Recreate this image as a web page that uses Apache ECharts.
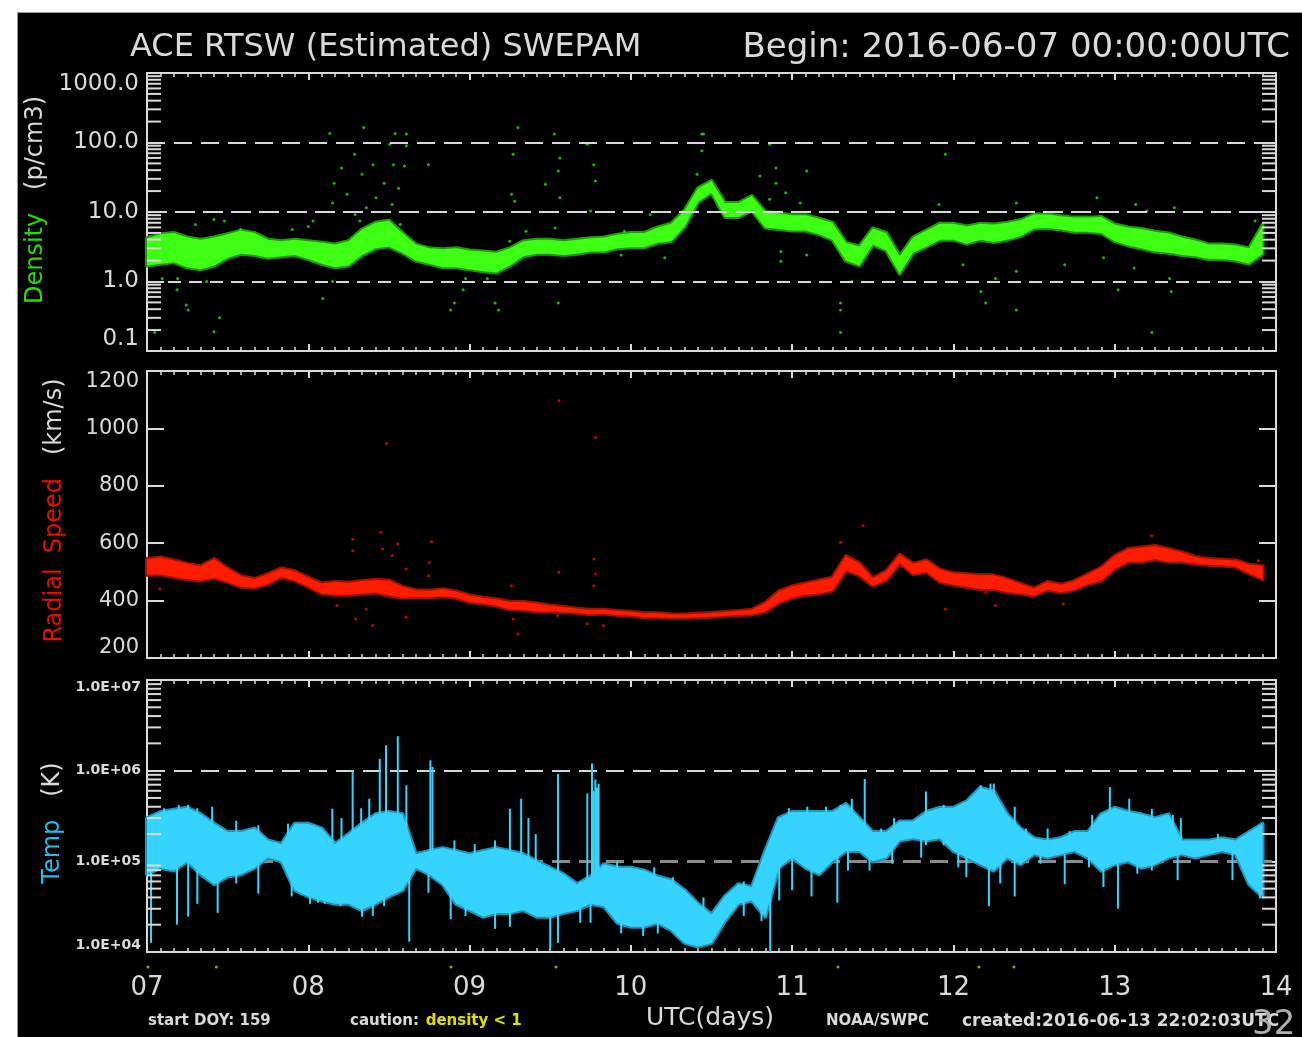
<!DOCTYPE html>
<html><head><meta charset="utf-8">
<script src="https://cdn.jsdelivr.net/npm/echarts@6/dist/echarts.min.js"></script>
<style>
html,body{margin:0;padding:0;background:#fff;width:1302px;height:1037px;overflow:hidden;}
#bg{position:absolute;left:17px;top:12px;width:1285px;height:1025px;background:#000;border-left:1px solid #999;border-top:1px solid #999;box-sizing:border-box;}
#c{position:absolute;left:0;top:0;width:1302px;height:1037px;}
</style>
</head><body><div id="bg"></div><div id="c"></div>
<script>
// ---------- labels ----------
const dayLabels = ['07','08','09','10','11','12','13','14'];
const densityTickLabels = ['0.1','1.0','10.0','100.0','1000.0'];
const speedTickLabels = ['200','400','600','800','1000','1200'];
const tempTickLabels = ['1.0E+04','1.0E+05','1.0E+06','1.0E+07'];
const densityDecades = [0.1, 1, 10, 100];
const tempDecades = [1e4, 1e5, 1e6];
const logMinorMultipliers = [2,3,4,5,6,7,8,9];
const densityRefLines = [1, 10, 100];
const tempRefLines = [1e5, 1e6];
const stepHours = 2; // samples every 2 hours from 2016-06-07 00:00 UTC

// ---------- density (p/cm3): band low / high every 2 h ----------
const densLo = [1.7,1.8,1.9,1.6,1.5,1.7,2.2,2.5,2.4,2.2, 2.3,2.4,2.1,1.8,1.6,1.7,2.4,3.0,3.2,2.6,
  2.0,1.8,1.6,1.6,1.5,1.4,1.35,1.7,2.3,2.5, 2.5,2.4,2.5,2.7,2.7,3.0,3.1,3.1,3.6,3.8,
  6.2,14,19,8.5,8.5,10.5,6.0,5.7,5.4,5.4, 4.8,4.0,2.0,1.7,3.4,2.8,1.3,2.6,3.2,4.0,
  4.0,3.5,4.0,3.7,4.0,4.5,5.8,5.9,5.6,5.2, 5.2,5.0,3.8,3.3,3.0,2.7,2.6,2.4,2.3,2.1,
  2.1,2.0,1.8,2.5];
const densHi = [4.2,4.8,5.0,4.3,4.0,4.3,4.8,5.4,5.0,4.0, 3.8,4.0,3.8,3.6,3.4,3.8,5.6,7.0,7.5,5.0,
  3.4,3.0,2.9,3.0,2.8,2.7,2.6,3.0,3.8,4.0, 4.0,3.8,4.0,4.2,4.3,4.7,5.0,5.0,6.0,6.8,
  10.5,22,28,13.5,13.5,17,10.0,9.5,9.0,9.0, 8.0,7.0,3.6,3.2,5.8,5.0,2.3,4.3,5.4,6.8,
  6.8,6.2,6.8,6.6,7.0,7.6,9.2,9.2,8.7,8.3, 8.3,8.5,6.6,6.0,5.7,5.2,4.9,4.3,3.9,3.4,
  3.4,3.3,3.0,6.5];
// scattered density points [day, value]
const densDots = [[1.344,165],[1.133,135],[1.539,135],[1.608,132],[1.505,94],[1.608,90],[1.287,68],[1.401,48],
  [1.528,48],[1.596,46],[1.206,43],[1.333,35],[1.47,26],[1.16,26],[1.56,22],[1.24,18],[1.42,16],[1.15,13.5],
  [1.36,11.5],[1.29,9.2],[1.52,12.8],[1.32,7.4],[1.57,6.6],[1.745,48],[2.27,68],[2.26,18],[2.28,14.3],[2.30,165],
  [2.525,132],[2.56,60],[2.55,39],[2.47,25],[2.56,16],[2.73,94],[2.77,48],[2.78,28],[2.75,10.3],[2.53,5.9],
  [3.44,132],[3.44,76],[3.41,35],[0.186,0.76],[0.243,0.46],[0.255,0.39],[0.45,0.30],[0.415,0.19],[0.048,0.185],
  [1.09,0.57],[1.906,0.49],[1.883,0.39],[2.158,0.49],[2.18,0.39],[2.55,0.49],[1.96,0.76],
  [0.9,5.6],[1.0,6.2],[1.03,7.4],[0.3,6.6],[0.415,7.8],[0.48,7.4],[0.58,5.6],[0.19,1.1],[0.094,1.1],[0.37,1.0],
  [1.15,1.0],[1.975,1.1],[2.11,1.1],[2.96,5.3],[3.12,9.2],[3.21,2.2],[2.94,2.4],[2.25,3.8],[2.35,5.3],
  [3.45,132],[3.86,94],[4.95,68],[3.90,43],[4.09,39],[3.90,26],[3.80,33],[3.96,19],[3.86,15.2],[4.05,13.5],
  [3.93,2.7],[3.93,1.95],[4.09,2.4],[4.30,0.49],[4.30,0.39],[4.30,0.185],[5.17,0.72],[5.20,0.49],[5.26,1.1],
  [5.39,0.39],[5.39,1.4],[6.02,0.76],[6.35,0.72],[6.23,0.185],[5.89,16],[6.13,12.8],[6.37,11.5],[5.39,13.5],
  [4.91,12.8],[5.69,1.74],[6.12,1.56],[6.34,1.1],[5.06,1.74],[6.87,7.4],[4.37,1.0],[5.93,2.2],[6.2,10.3]];

// ---------- radial speed (km/s): band low / high every 2 h ----------
const speedLo = [490,492,482,475,470,480,465,448,445,458, 482,470,448,425,420,420,425,428,418,410,
  412,412,415,410,395,390,382,370,368,362, 362,360,358,352,355,350,348,342,342,340,
  340,342,344,347,350,352,362,392,410,420, 425,435,505,488,452,472,530,492,500,465,
  455,448,440,440,430,425,418,438,430,438, 458,470,510,535,535,545,535,535,528,525,
  522,518,495,475];
const speedHi = [545,550,540,528,520,545,512,485,475,492, 512,502,480,460,465,462,468,472,470,448,
  436,434,440,432,418,410,405,395,395,390, 383,378,372,368,368,364,361,356,356,352,
  352,354,357,360,364,368,392,432,450,460, 470,480,555,530,478,502,560,528,540,508,
  495,492,488,488,475,458,442,465,455,468, 492,515,555,580,585,590,580,568,552,545,
  542,540,525,520];
const speedDots = [[1.484,947],[2.78,968],[2.554,1096],[1.276,614],[1.276,574],[1.45,638],[1.46,580],[1.555,597],
  [1.52,557],[1.764,605],[1.75,533],[1.745,487],[1.607,510],[2.77,545],[2.78,493],[2.77,452],[2.554,499],
  [2.26,452],[1.294,336],[1.40,313],[1.607,342],[2.30,284],[2.73,319],[2.83,313],[1.177,383],[1.36,371],
  [2.27,336],[0.08,441],[2.546,348],[4.44,661],[4.30,603],[4.95,371],[5.68,388],[5.26,383],[5.20,429],
  [6.23,626],[6.89,539]];

// ---------- temperature (K): band low / high every 2 h ----------
const tempHi = [3.0e5,3.5e5,3.7e5,3.9e5,3.3e5,2.6e5,2.1e5,2.1e5,2.3e5,1.7e5, 1.55e5,2.6e5,2.6e5,2.3e5,1.55e5,2.0e5,2.6e5,3.3e5,3.5e5,3.3e5,
  1.2e5,1.3e5,1.4e5,1.3e5,1.2e5,1.3e5,1.4e5,1.3e5,1.2e5,1.0e5, 8.5e4,7.2e4,5.6e4,6.8e4,9.3e4,8.5e4,8.5e4,7.9e4,6.8e4,6.2e4,
  4.8e4,3.4e4,2.6e4,4.1e4,5.6e4,5.2e4,1.3e5,3.0e5,3.5e5,3.5e5, 3.5e5,3.5e5,4.3e5,3.0e5,2.1e5,2.1e5,2.75e5,2.75e5,3.5e5,3.9e5,
  3.9e5,4.6e5,6.5e5,5.9e5,3.3e5,2.3e5,1.8e5,1.7e5,1.8e5,2.1e5, 2.1e5,3.3e5,3.9e5,3.5e5,3.3e5,3.0e5,3.3e5,1.7e5,1.7e5,1.7e5,
  1.8e5,1.7e5,2.1e5,2.6e5];
const tempLo = [7.2e4,8.5e4,7.9e4,1.0e5,7.2e4,5.6e4,6.8e4,7.2e4,8.5e4,1.1e5, 1.0e5,4.8e4,4.1e4,3.7e4,3.4e4,3.4e4,2.9e4,3.4e4,4.1e4,4.8e4,
  8.5e4,7.2e4,5.6e4,3.4e4,2.9e4,2.45e4,2.7e4,2.7e4,2.9e4,2.45e4, 2.45e4,2.7e4,2.9e4,3.4e4,3.2e4,2.1e4,1.9e4,1.9e4,2.1e4,1.75e4,
  1.26e4,1.15e4,1.26e4,2.2e4,3.4e4,3.7e4,2.45e4,8.5e4,1.1e5,8.5e4, 7.2e4,1.0e5,1.3e5,1.3e5,1.0e5,1.1e5,1.7e5,1.8e5,1.7e5,1.8e5,
  1.3e5,1.1e5,9.3e4,7.9e4,1.1e5,9.3e4,1.2e5,1.1e5,1.2e5,1.3e5, 1.1e5,7.9e4,9.3e4,1.0e5,8.5e4,9.3e4,1.1e5,1.2e5,1.1e5,1.2e5,
  1.3e5,1.2e5,5.6e4,4.1e4];
// spikes [day, low K, high K]
const tempSpikes = [[1.555,1.3e5,2.4e6],[1.482,1.5e5,1.9e6],[1.443,1.5e5,1.35e6],[1.608,1.5e5,6.9e5],[1.757,9.0e4,1.3e6],
  [1.77,9.0e4,1.1e6],[1.275,1.2e5,1.0e6],[1.378,1.2e5,4.9e5],[1.149,1.2e5,3.8e5],[2.548,6.0e4,9.2e5],[2.759,6.0e4,1.2e6],
  [2.78,6.0e4,8.0e5],[2.80,6.0e4,7.2e5],[2.77,6.0e4,6.0e5],[2.79,6.0e4,6.5e5],[2.32,8.0e4,4.9e5],[2.25,8.0e4,3.8e5],
  [0.404,1.5e5,4.0e5],[0.255,1.5e5,4.2e5],
  [1.906,1.0e5,1.7e5],[4.45,1.5e5,8.1e5],[4.37,1.5e5,4.9e5],[5.97,1.5e5,6.6e5],[6.09,1.5e5,4.9e5],[6.23,1.5e5,3.8e5],
  [5.38,1.5e5,4.0e5],[4.83,1.5e5,5.9e5],[5.23,1.5e5,7.2e5],[5.17,1.5e5,6.9e5],[6.90,1.0e5,2.5e5],
  [0.025,1.26e4,2.0e5],[0.186,2.0e4,2.0e5],[0.255,2.45e4,2.0e5],[0.438,2.7e4,1.5e5],[1.626,1.3e4,1.5e5],[2.50,1.1e4,8.0e4],
  [2.548,1.26e4,8.0e4],[2.94,1.6e4,6.0e4],[2.75,2.1e4,6.0e4],[1.333,2.45e4,1.0e5],[1.745,4.5e4,1.2e5],[3.864,1.0e4,1.5e5],
  [3.92,3.7e4,1.5e5],[5.22,3.2e4,1.2e5],[5.38,4.1e4,1.2e5],[6.02,3.0e4,1.2e5],[5.69,5.6e4,1.2e5],[5.93,5.2e4,1.2e5],
  [6.73,6.2e4,1.5e5],[6.90,3.9e4,1.2e5],[4.28,3.5e4,1.5e5],[4.12,4.1e4,1.5e5],[4.0,4.8e4,1.5e5],[3.70,2.5e4,6.0e4],
  [3.81,2.2e4,8.0e4],[1.06,3.5e4,1.0e5],[1.2,3.2e4,1.0e5],
  [0.106,1.5e5,3.85e5],[0.197,1.5e5,4.2e5],[0.312,1.5e5,3.85e5],[0.553,1.3e5,2.8e5],[0.69,1.3e5,2.5e5],[0.874,1.2e5,2.6e5],
  [1.034,1.2e5,2.5e5],[1.206,1.2e5,3.0e5],[1.328,1.2e5,3.85e5],[2.032,9.0e4,1.55e5],[2.158,9.0e4,1.7e5],[2.365,8.0e4,3.0e5],
  [2.41,8.0e4,2.0e5],[2.73,5.0e4,5.6e5],[2.915,4.0e4,1.0e5],[3.145,4.0e4,8.6e4],[3.26,3.0e4,6.7e4],
  [0.312,3.4e4,1.5e5],[0.553,5.7e4,1.5e5],[0.69,4.4e4,1.5e5],[0.897,4.1e4,1.2e5],[1.011,3.4e4,1.2e5],[1.103,3.4e4,1.2e5],
  [1.40,2.5e4,1.2e5],[1.47,3.2e4,1.2e5],[1.883,2.3e4,8.0e4],[1.975,2.5e4,8.0e4],[2.158,1.8e4,8.0e4],[2.25,1.9e4,8.0e4],
  [2.686,2.1e4,6.0e4],[3.076,1.5e4,5.0e4],[3.167,1.6e4,5.0e4],[3.443,1.2e4,3.0e4],
  [3.98,1.5e5,3.85e5],[4.094,1.5e5,4.0e5],[4.21,1.5e5,4.0e5],[4.30,1.5e5,4.2e5],[4.552,1.5e5,2.3e5],[4.632,1.5e5,3.0e5],
  [4.94,1.5e5,4.2e5],[5.034,1.5e5,4.2e5],[5.25,1.5e5,7.2e5],[5.45,1.5e5,2.3e5],[5.584,1.4e5,2.3e5],[5.72,1.4e5,2.15e5],
  [5.86,1.5e5,3.25e5],[6.36,1.5e5,3.25e5],[6.41,1.4e5,3.0e5],[6.64,1.4e5,2.0e5],[6.87,1.4e5,2.15e5],
  [3.45,1.8e4,4.0e4],[4.346,7.9e4,2.0e5],[4.48,7.9e4,2.0e5],[4.62,9.4e4,2.0e5],[4.80,1.1e5,2.0e5],[5.03,8.6e4,2.0e5],
  [5.08,6.7e4,2.0e5],[5.29,5.7e4,2.0e5],[5.54,9.4e4,1.6e5],[5.84,8.6e4,2.0e5],[6.14,7.3e4,2.0e5],[6.23,7.9e4,2.0e5],
  [6.39,6.2e4,2.0e5]];

// caution marks (density < 1) along the time axis [day]
const cautionDays = [0.006, 0.43, 1.885, 2.536, 4.284, 5.158, 5.375];

// ---------- styling ----------
const FONT = 'DejaVu Sans';
const FG = '#dadada';
const GREEN = '#3dff12', RED = '#ff1c00', CYAN = '#35d4ff';
const timeOf = i => i * stepHours / 24;

const chart = echarts.init(document.getElementById('c'), null, {renderer:'canvas', width:1302, height:1037});

const grids = [
  {left:147, top:73, width:1129, height:278},
  {left:147, top:371, width:1129, height:287},
  {left:147, top:680, width:1129, height:272},
  {left:147, top:961, width:1129, height:12}
];

function xAx(gi, pos, withLabels) {
  return {
    gridIndex: gi, type:'value', position: pos, min:0, max:7, interval:1,
    axisLine:{show:true, onZero:false, lineStyle:{color:FG, width:2}},
    axisTick:{show:true, inside:true, length:7, lineStyle:{color:FG, width:2}},
    minorTick:{show:true, splitNumber:12, length:4, lineStyle:{color:FG, width:1.5}},
    splitLine:{show:false}, minorSplitLine:{show:false},
    axisLabel: withLabels ? {show:true, margin:23, color:FG, fontFamily:FONT, fontSize:26,
      formatter: v => dayLabels[Math.round(v)]} : {show:false}
  };
}
function yAx(gi, pos, base, label, name) {
  const a = Object.assign({
    gridIndex: gi, position: pos,
    axisLine:{show:true, onZero:false, lineStyle:{color:FG, width:2}},
    axisTick:{show:true, inside:true, length:17, lineStyle:{color:FG, width:2}},
    splitLine:{show:false},
    axisLabel: label ? Object.assign({show:true, color:FG, fontFamily:FONT,
      verticalAlignMinLabel:'bottom', verticalAlignMaxLabel:'top'}, label) : {show:false}
  }, base);
  if (name) Object.assign(a, name);
  return a;
}
function axisName(colored, plain, color, gap, pad) {
  return {
    name: '{c|' + colored + '}   {w|' + plain + '}', nameLocation:'middle', nameRotate:90, nameGap:gap,
    nameTextStyle:{fontFamily:FONT, fontSize:24, padding:pad, rich:{
      c:{color:color, fontFamily:FONT, fontSize:24}, w:{color:FG, fontFamily:FONT, fontSize:24}}}
  };
}

const densBase = {type:'log', logBase:10, min:0.1, max:1000, splitNumber:4};
const speedBase = {type:'value', min:200, max:1200, interval:200};
const tempBase = {type:'log', logBase:10, min:1e4, max:1e7, splitNumber:3};

function band(lo, hi, xi, yi, color, halo, z) {
  return {type:'custom', xAxisIndex:xi, yAxisIndex:yi, silent:true, z:z,
    data:[[timeOf(0), hi[0]]],
    renderItem: (params, api) => {
      const pts = [];
      for (let i = 0; i < hi.length; i++) pts.push(api.coord([timeOf(i), hi[i]]));
      for (let i = lo.length - 1; i >= 0; i--) pts.push(api.coord([timeOf(i), lo[i]]));
      return {type:'group', children:[
        {type:'polygon', shape:{points:pts}, style:{fill:halo, stroke:halo, lineWidth:4, lineJoin:'round'}},
        {type:'polygon', shape:{points:pts}, style:{fill:color}}
      ]};
    }};
}
function minorTicks(decades, xi, yi) {
  const vals = [];
  decades.forEach(d => logMinorMultipliers.forEach(m => vals.push([0, d * m])));
  return {type:'custom', xAxisIndex:xi, yAxisIndex:yi, silent:true, z:6, data:vals,
    renderItem: (params, api) => {
      const cs = params.coordSys;
      const p = api.coord([0, api.value(1)]);
      const len = 14, st = {stroke:FG, lineWidth:2};
      return {type:'group', children:[
        {type:'line', shape:{x1:cs.x, y1:p[1], x2:cs.x + len, y2:p[1]}, style:st},
        {type:'line', shape:{x1:cs.x + cs.width - len, y1:p[1], x2:cs.x + cs.width, y2:p[1]}, style:st}
      ]};
    }};
}
function refLines(vals, xi, yi, z, styles) {
  return {type:'line', xAxisIndex:xi, yAxisIndex:yi, data:[], z:z, silent:true,
    markLine:{silent:true, symbol:['none','none'], label:{show:false}, z:z,
      data: vals.map((v, k) => ({yAxis:v, lineStyle:styles[k]}))}};
}

const option = {
  backgroundColor:'transparent',
  animation:false,
  grid: grids,
  xAxis: [xAx(0,'bottom',false), xAx(0,'top',false), xAx(1,'bottom',false), xAx(1,'top',false),
          xAx(2,'bottom',true), xAx(2,'top',false),
          {gridIndex:3, type:'value', min:0, max:7, show:false}],
  yAxis: [
    yAx(0,'left',densBase,{fontSize:23, margin:8,
      formatter: v => densityTickLabels[Math.round(Math.log10(v)) + 1]}, axisName('Density','(p/cm3)','#2fd600',80,[0,0,0,24])),
    yAx(0,'right',densBase,null),
    yAx(1,'left',speedBase,{fontSize:21, margin:8,
      formatter: v => speedTickLabels[Math.round((v - 200) / 200)]}, axisName('Radial  Speed','(km/s)','#e80c00',80,[0,0,0,8])),
    yAx(1,'right',speedBase,null),
    yAx(2,'left',tempBase,{fontSize:14, fontWeight:'bold', margin:6,
      formatter: v => tempTickLabels[Math.round(Math.log10(v)) - 4]}, axisName('Temp','(K)','#25bde6',80,[0,14,0,0])),
    yAx(2,'right',tempBase,null),
    {gridIndex:3, type:'value', min:0, max:1, show:false}
  ],
  series: [
    band(densLo, densHi, 0, 0, GREEN, '#1f9a0c', 2),
    {type:'scatter', xAxisIndex:0, yAxisIndex:0, data:densDots, symbolSize:3, silent:true, z:3,
      itemStyle:{color:'#2ee010'}},
    refLines(densityRefLines, 0, 0, 5, [
      {type:[13,8], color:'#d8d8d8', width:2},
      {type:[20,8], color:'#d8d8d8', width:2},
      {type:[18,9], color:'#d8d8d8', width:2}]),
    minorTicks(densityDecades, 0, 0),

    band(speedLo, speedHi, 2, 2, RED, '#a01200', 2),
    {type:'scatter', xAxisIndex:2, yAxisIndex:2, data:speedDots, symbolSize:3, silent:true, z:3,
      itemStyle:{color:'#e01400'}},

    refLines(tempRefLines, 4, 4, 1, [
      {type:[18,9], color:'#8a8a8a', width:3},
      {type:[18,9], color:'#d8d8d8', width:2}]),
    band(tempLo, tempHi, 4, 4, CYAN, '#1f95bb', 2),
    {type:'custom', xAxisIndex:4, yAxisIndex:4, silent:true, z:3, data:tempSpikes,
      encode:{x:0, y:[1,2]},
      renderItem: (params, api) => {
        const d = api.value(0);
        const a = api.coord([d, api.value(1)]), b = api.coord([d, api.value(2)]);
        return {type:'line', shape:{x1:a[0], y1:a[1], x2:b[0], y2:b[1]}, style:{stroke:CYAN, lineWidth:2}};
      }},
    minorTicks(tempDecades, 4, 4),

    {type:'scatter', xAxisIndex:6, yAxisIndex:6, data:cautionDays.map(d => [d, 0.5]), symbolSize:3,
      silent:true, itemStyle:{color:'#c8c800'}}
  ],
  graphic: [
    {type:'text', left:130, top:32, style:{text:'ACE RTSW (Estimated) SWEPAM', fill:FG, font:'32px "DejaVu Sans"'}},
    {type:'text', right:12, top:31, style:{text:'Begin: 2016-06-07 00:00:00UTC', fill:FG, font:'34px "DejaVu Sans"'}},
    {type:'text', left:148, top:1014, style:{text:'start DOY: 159', fill:FG, font:'bold 15px "DejaVu Sans"'}},
    {type:'text', left:350, top:1014, style:{text:'{w|caution:}  {y|density < 1}', rich:{
      w:{fill:FG, font:'bold 15px "DejaVu Sans"'}, y:{fill:'#e0e000', font:'bold 15px "DejaVu Sans"'}}}},
    {type:'text', left:646, top:1006, style:{text:'UTC(days)', fill:FG, font:'25px "DejaVu Sans"'}},
    {type:'text', left:826, top:1014, style:{text:'NOAA/SWPC', fill:FG, font:'bold 15px "DejaVu Sans"'}},
    {type:'text', left:962, top:1013, style:{text:'created:2016-06-13 22:02:03UTC', fill:FG, font:'bold 17px "DejaVu Sans"'}},
    {type:'text', left:1252, top:1008, style:{text:'32', fill:'#b0b0b0', font:'34px "DejaVu Sans"'}}
  ]
};
chart.setOption(option);
</script>
</body></html>
